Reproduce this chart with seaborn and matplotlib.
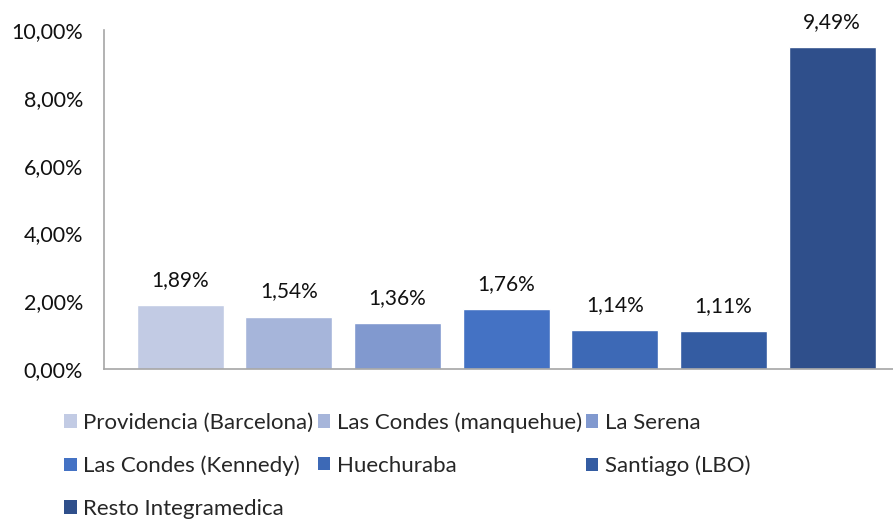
import numpy as np
import pandas as pd
import matplotlib
matplotlib.use("Agg")
import matplotlib.pyplot as plt
import seaborn as sns
from matplotlib.patches import Patch

sedes = ['Providencia (Barcelona)', 'Las Condes (manquehue)', 'La Serena',
         'Las Condes (Kennedy)', 'Huechuraba', 'Santiago (LBO)', 'Resto Integramedica']
valores = [1.89, 1.54, 1.36, 1.76, 1.14, 1.11, 9.49]
colores = ['#C2CBE4', '#A6B5DA', '#8199CF', '#4472C4', '#3D69B6', '#345CA2', '#2F4F8B']
y_ticks = [0, 2, 4, 6, 8, 10]

df = pd.DataFrame({'sede': sedes, 'valor': valores})

sns.set_theme(style='white')
plt.rcParams['font.family'] = ['Lato', 'DejaVu Sans']

fig = plt.figure(figsize=(8.93, 5.2), dpi=100)
ax = fig.add_axes([0.1165, 0.2904, 0.8835, 0.6519])

sns.barplot(data=df, x='sede', y='valor', hue='sede', palette=colores,
            dodge=False, width=0.8, legend=False, ax=ax, saturation=1)

for cont in ax.containers:
    ax.bar_label(cont, labels=[f'{v:.2f}%'.replace('.', ',') for v in cont.datavalues],
                 padding=11, fontsize=15, color='#111111')

ax.set_ylim(0, 10)
ax.set_xlim(-0.70, 6.56)
ax.set_yticks(y_ticks)
ax.set_yticklabels([f'{t:.2f}%'.replace('.', ',') for t in y_ticks], fontsize=15.5, color='#111111')
ax.set_xticks([])
ax.set_xlabel('')
ax.set_ylabel('')
ax.tick_params(axis='y', length=0, pad=15)

for s in ['top', 'right']:
    ax.spines[s].set_visible(False)
for s in ['left', 'bottom']:
    ax.spines[s].set_color('#A6A6A6')
    ax.spines[s].set_linewidth(1.2)

# legend row-major in 3 columns
handles = [Patch(facecolor=c, edgecolor='none', label=s) for s, c in zip(sedes, colores)]
orden = [0, 3, 6, 1, 4, 2, 5]
fig.legend([handles[i] for i in orden], [sedes[i] for i in orden],
           ncol=3, loc='upper left', bbox_to_anchor=(0.072, 0.207),
           frameon=False, fontsize=16, handlelength=0.55, handleheight=0.55,
           handletextpad=0.3, columnspacing=0.2, labelspacing=1.02,
           borderaxespad=0, borderpad=0)

fig.savefig('out.png', dpi=100)
